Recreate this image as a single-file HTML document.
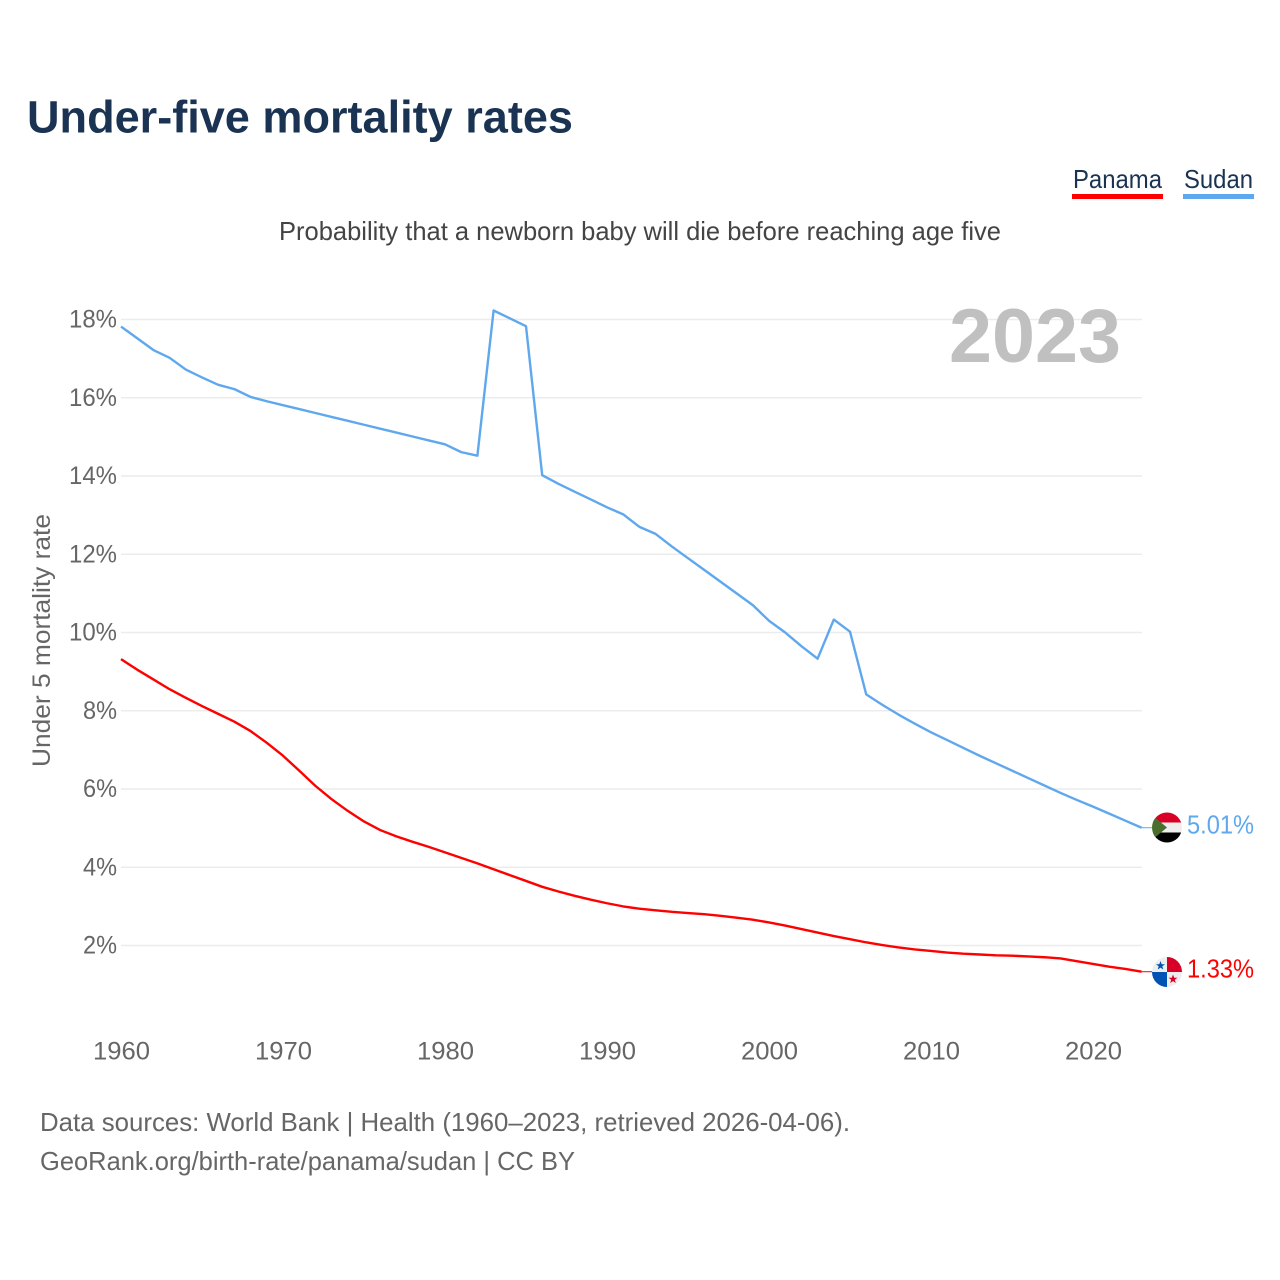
<!DOCTYPE html>
<html lang="en">
<head>
<meta charset="utf-8">
<title>Under-five mortality rates</title>
<style>
html,body{margin:0;padding:0;background:#fff;width:1280px;height:1280px;overflow:hidden}
svg{display:block}
text{font-family:"Liberation Sans",sans-serif}
</style>
</head>
<body>
<svg id="chart" width="1280" height="1280" viewBox="0 0 1280 1280" xmlns="http://www.w3.org/2000/svg">
  <defs>
    <clipPath id="flag-clip-sudan"><circle cx="1167" cy="827.5" r="15"/></clipPath>
    <clipPath id="flag-clip-panama"><circle cx="1167" cy="972" r="15"/></clipPath>
  </defs>
  <rect width="1280" height="1280" fill="#fff"/>
  <text x="27" y="132.5" font-size="45" font-weight="700" fill="#1a3353" textLength="546" lengthAdjust="spacingAndGlyphs">Under-five mortality rates</text>
  <text x="279" y="240" font-size="26" fill="#444" textLength="722" lengthAdjust="spacingAndGlyphs">Probability that a newborn baby will die before reaching age five</text>

  <g>
    <text x="1073" y="188" font-size="26" fill="#1a3353" textLength="89" lengthAdjust="spacingAndGlyphs">Panama</text>
    <rect x="1072" y="194" width="91" height="5" fill="#ff0000"/>
    <text x="1184" y="188" font-size="26" fill="#1a3353" textLength="69" lengthAdjust="spacingAndGlyphs">Sudan</text>
    <rect x="1183" y="194" width="71" height="5" fill="#5fa8ee"/>
  </g>

  <g id="grid"></g>
  <g id="y-axis"></g>
  <g id="x-axis"></g>

  <text x="949" y="362" font-size="76" font-weight="700" fill="#c0c0c0" textLength="172" lengthAdjust="spacingAndGlyphs">2023</text>
  <text transform="translate(50,767) rotate(-90)" font-size="25" fill="#666" textLength="253" lengthAdjust="spacingAndGlyphs">Under 5 mortality rate</text>

  <g id="series"></g>

  <g clip-path="url(#flag-clip-sudan)">
    <rect x="1152" y="812.5" width="30" height="10" fill="#d80027"/>
    <rect x="1152" y="822.5" width="30" height="10" fill="#eeeeee"/>
    <rect x="1152" y="832.5" width="30" height="10" fill="#000000"/>
    <polygon points="1152,815 1167,827.5 1152,840" fill="#496e2d"/>
  </g>
  <g clip-path="url(#flag-clip-panama)">
    <rect x="1152" y="957" width="30" height="30" fill="#eeeeee"/>
    <rect x="1167" y="957" width="15" height="15" fill="#d80027"/>
    <rect x="1152" y="972" width="15" height="15" fill="#0052b4"/>
    <polygon points="1160.5,961 1161.7,964.3 1165,964.3 1162.3,966.3 1163.3,969.5 1160.5,967.6 1157.7,969.5 1158.7,966.3 1156,964.3 1159.3,964.3" fill="#0052b4"/>
    <polygon points="1173,974.5 1174.2,977.8 1177.5,977.8 1174.8,979.8 1175.8,983 1173,981.1 1170.2,983 1171.2,979.8 1168.5,977.8 1171.8,977.8" fill="#d80027"/>
  </g>

  <text x="40" y="1131" font-size="26" fill="#666" textLength="810" lengthAdjust="spacingAndGlyphs">Data sources: World Bank | Health (1960–2023, retrieved 2026-04-06).</text>
  <text x="40" y="1170" font-size="26" fill="#666" textLength="535" lengthAdjust="spacingAndGlyphs">GeoRank.org/birth-rate/panama/sudan | CC BY</text>
</svg>
<script>
var startYear = 1960;
var sudanValues = [17.82,17.52,17.22,17.02,16.72,16.52,16.33,16.22,16.02,15.91,15.81,15.71,15.61,15.51,15.41,15.31,15.21,15.11,15.01,14.91,14.81,14.61,14.52,18.23,18.03,17.83,14.02,13.8,13.6,13.4,13.2,13.02,12.7,12.52,12.2,11.9,11.6,11.3,11.0,10.7,10.3,10.0,9.65,9.33,10.33,10.02,8.42,8.15,7.9,7.67,7.45,7.25,7.05,6.85,6.66,6.47,6.28,6.09,5.9,5.72,5.55,5.37,5.19,5.01];
var panamaValues = [9.32,9.05,8.8,8.55,8.33,8.12,7.92,7.72,7.48,7.18,6.85,6.47,6.08,5.74,5.44,5.17,4.95,4.79,4.65,4.52,4.38,4.24,4.1,3.95,3.8,3.65,3.5,3.38,3.27,3.17,3.08,3.0,2.94,2.9,2.86,2.83,2.8,2.76,2.71,2.66,2.59,2.51,2.42,2.33,2.24,2.16,2.08,2.01,1.95,1.9,1.86,1.82,1.79,1.77,1.75,1.74,1.72,1.7,1.67,1.6,1.53,1.46,1.4,1.33];
var yTickValues = [2,4,6,8,10,12,14,16,18];
var xTickYears = [1960,1970,1980,1990,2000,2010,2020];

var SVG_NS = 'http://www.w3.org/2000/svg';
function xScale(year){ return 121 + (year - 1960) * 16.2; }
function yScale(v){ return 945.5 - (v - 2) * 39.125; }

function makeText(parent, str, x, y, size, fill, anchor, len){
  var t = document.createElementNS(SVG_NS, 'text');
  t.setAttribute('x', x);
  t.setAttribute('y', y);
  t.setAttribute('font-size', size);
  t.setAttribute('fill', fill);
  t.setAttribute('text-anchor', anchor);
  t.setAttribute('textLength', len);
  t.setAttribute('lengthAdjust', 'spacingAndGlyphs');
  t.textContent = str;
  parent.appendChild(t);
  return t;
}

var grid = document.getElementById('grid');
var yAxis = document.getElementById('y-axis');
var xAxis = document.getElementById('x-axis');
var seriesGroup = document.getElementById('series');

yTickValues.forEach(function(v){
  var line = document.createElementNS(SVG_NS, 'line');
  
  
  line.setAttribute('x1', 121);
  line.setAttribute('x2', 1142);
  line.setAttribute('y1', yScale(v));
  line.setAttribute('y2', yScale(v));
  line.setAttribute('stroke', '#ececec');
  line.setAttribute('stroke-width', 1.5);
  grid.appendChild(line);

  var str = v + '%';
  var label = makeText(yAxis, str, 117, yScale(v) + 8, 25, '#666', 'end', String(v).length * 14 + 20);
  
  
});

xTickYears.forEach(function(year){
  var label = makeText(xAxis, String(year), xScale(year) + 0.5, 1059.5, 25, '#666', 'middle', 57);
  
  
});

function drawSeries(values, color, lineName, labelName){
  var pts = values.map(function(v, i){
    return xScale(startYear + i).toFixed(2) + ',' + yScale(v).toFixed(2);
  }).join(' ');
  var poly = document.createElementNS(SVG_NS, 'polyline');
  
  
  poly.setAttribute('points', pts);
  poly.setAttribute('fill', 'none');
  poly.setAttribute('stroke', color);
  poly.setAttribute('stroke-width', 2.4);
  poly.setAttribute('stroke-linejoin', 'round');
  seriesGroup.appendChild(poly);

  var last = values[values.length - 1];
  var lastY = yScale(last);
  var lead = document.createElementNS(SVG_NS, 'line');
  
  
  lead.setAttribute('x1', xScale(startYear + values.length - 1));
  lead.setAttribute('x2', 1153);
  lead.setAttribute('y1', lastY);
  lead.setAttribute('y2', lastY);
  lead.setAttribute('stroke', color);
  lead.setAttribute('stroke-width', 1);
  seriesGroup.appendChild(lead);

  var label = makeText(seriesGroup, last.toFixed(2) + '%', 1254, lastY + 6, 26, color, 'end', 67);
  
  
}

drawSeries(sudanValues, '#5fa8ee', 'line-sudan', 'value-label-sudan');
drawSeries(panamaValues, '#ff0000', 'line-panama', 'value-label-panama');
</script>
</body>
</html>
